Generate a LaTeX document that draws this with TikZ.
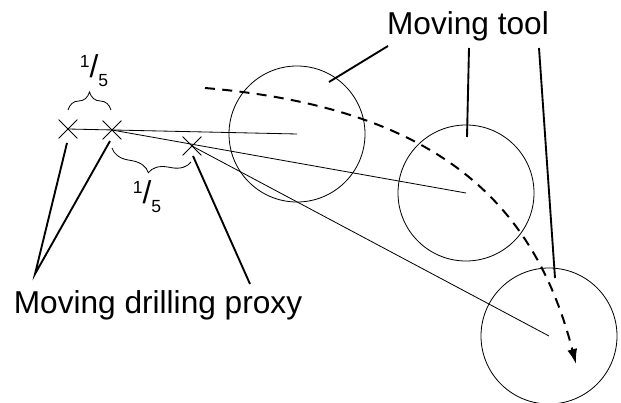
\documentclass[tikz,border=0pt]{standalone}
\usepackage{fontspec}
\setmainfont{Liberation Sans}
\usetikzlibrary{arrows.meta,shapes.misc,decorations.pathreplacing}
\newcommand{\fifth}{\raisebox{9pt}{\fontsize{15}{15}\selectfont 1}/\raisebox{-7pt}{\fontsize{15}{15}\selectfont 5}}

\begin{document}
\begin{tikzpicture}[x=0.03cm, y=-0.03cm,
    proxy/.style={cross out, draw, minimum size=0.54cm, inner sep=0pt, line width=0.7pt},
    tool/.style={circle, draw, minimum size=4.08cm, inner sep=0pt, line width=0.7pt},
    link/.style={line width=0.7pt},
    leader/.style={line width=1.6pt},
    track/.style={line width=1.7pt, dash pattern=on 0.3cm off 0.22cm, -{Latex[length=0.45cm, width=0.3cm]}},
    fifthbrace/.style={decorate, decoration={brace, amplitude=0.54cm}, line width=0.7pt},
    label/.style={font=\fontsize{27}{32}\selectfont, inner sep=0pt}
]
    \useasboundingbox (0,0) rectangle (621,403);

    % Tools along the path
    \node[tool] (tool1) at (297,134) {};
    \node[tool] (tool2) at (466,193) {};
    \node[tool] (tool3) at (549,336) {};

    % Drilling proxies
    \node[proxy] (p1) at (68,129) {};
    \node[proxy] (p2) at (112,130) {};
    \node[proxy] (p3) at (192,146) {};

    % Proxy to tool centre
    \draw[link] (p1.center) -- (tool1.center);
    \draw[link] (p2.center) -- (tool2.center);
    \draw[link] (p3.center) -- (tool3.center);

    % Tool path
    \coordinate (trackstart) at (205,88);
    \coordinate (trackend) at (576,364);
    \draw[track] (trackstart) .. controls (440,108) and (535,205) .. (trackend);

    % Spacing braces
    \draw[fifthbrace] (68,110) -- (111,110);
    \node[label, anchor=base] (f1) at (94,78) {\fifth};
    \draw[fifthbrace, decoration={mirror}] (112,148) -- (191,162);
    \node[label, anchor=base] (f2) at (147,204) {\fifth};

    % Labels
    \node[label, anchor=base] (toollabel) at (468,35) {Moving tool};
    \node[label, anchor=base] (proxylabel) at (158,313) {Moving drilling proxy};

    % Leaders
    \coordinate (t1) at (329,82);
    \coordinate (t2) at (467,137);
    \coordinate (t3) at (555,278);
    \coordinate (ta) at (388,46);
    \coordinate (tb) at (469,48);
    \coordinate (tc) at (539,48);
    \draw[leader] (ta) -- (t1);
    \draw[leader] (tb) -- (t2);
    \draw[leader] (tc) -- (t3);

    \coordinate (apex) at (35,274);
    \coordinate (apex3) at (250,284);
    \coordinate (q1) at (67,143);
    \coordinate (q2) at (110,141);
    \coordinate (q3) at (193,156);
    \draw[leader] (q1) -- (apex) -- (q2);
    \draw[leader] (q3) -- (apex3);
\end{tikzpicture}
\end{document}
